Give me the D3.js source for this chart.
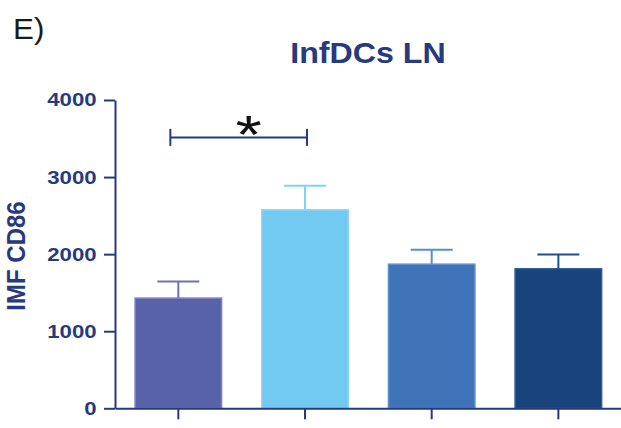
<!DOCTYPE html>
<html>
<head>
<meta charset="utf-8">
<script src="https://cdn.jsdelivr.net/npm/d3@7"></script>
<style>
  html, body { margin: 0; padding: 0; background: #fff; }
  svg { display: block; }
</style>
</head>
<body>
<svg id="chart" width="621" height="428"></svg>
<script>
// Group identifiers (the x axis carries no labels)
const groups = ["g1", "g2", "g3", "g4"];
// Mean CD86 intensity per group and its standard error
const means = [1430, 2575, 1870, 1810];
const sems = [215, 312, 186, 186];
// Y axis ticks
const yTicks = [0, 1000, 2000, 3000, 4000];
// Significance bracket between group 1 and group 2
const sigFrom = ["g1"];
const sigTo = ["g2"];
const sigLevel = [3515];
const sigLabel = ["*"];

const fills = ["#5862a8", "#72caf2", "#4074b8", "#18437c"];
const strokes = ["#7c85c3", "#8fd6f6", "#5f92cf", "#2a5a98"];
const errColors = ["#6a73b5", "#80d2f5", "#5a8dca", "#1f4f8f"];
const navy = "#27397f";

const svg = d3.select("#chart");
const x0 = 115, yBottom = 408.3, yTop = 100;

const x = d3.scaleBand().domain(groups).range([x0, 621.7])
  .paddingInner(0.317).paddingOuter(0.1585);
const y = d3.scaleLinear().domain([0, 4000]).range([yBottom, yTop]);

// Panel letter
svg.append("text")
  .attr("transform", "translate(13,39) scale(1.08,1)")
  .attr("font-family", "Liberation Sans, Arial, sans-serif")
  .attr("font-size", 29)
  .attr("fill", "#1a1a1a")
  .text("E)");

// Title
svg.append("text")
  .attr("transform", "translate(368,63) scale(1.11,1)")
  .attr("text-anchor", "middle")
  .attr("font-family", "Liberation Sans, Arial, sans-serif")
  .attr("font-weight", "bold")
  .attr("font-size", 29)
  .attr("fill", navy)
  .text("InfDCs LN");

// Y axis label
svg.append("text")
  .attr("transform", "translate(25,256) scale(1.08,1) rotate(-90)")
  .attr("text-anchor", "middle")
  .attr("font-family", "Liberation Sans, Arial, sans-serif")
  .attr("font-weight", "bold")
  .attr("font-size", 24)
  .attr("fill", navy)
  .text("IMF CD86");

// Bars
const data = groups.map((g, i) => ({ g, mean: means[i], sem: sems[i], i }));

svg.append("g").selectAll("rect").data(data).join("rect")
  .attr("x", d => x(d.g))
  .attr("y", d => y(d.mean))
  .attr("width", x.bandwidth())
  .attr("height", d => y(0) - y(d.mean))
  .attr("fill", d => fills[d.i])
  .attr("stroke", d => strokes[d.i])
  .attr("stroke-width", 1.5);

// Error bars (upper only)
const capHalf = 21;
const eb = svg.append("g").selectAll("g").data(data).join("g")
  .attr("stroke", d => errColors[d.i])
  .attr("stroke-width", 2);
eb.append("line")
  .attr("x1", d => x(d.g) + x.bandwidth() / 2)
  .attr("x2", d => x(d.g) + x.bandwidth() / 2)
  .attr("y1", d => y(d.mean))
  .attr("y2", d => y(d.mean + d.sem));
eb.append("line")
  .attr("x1", d => x(d.g) + x.bandwidth() / 2 - capHalf)
  .attr("x2", d => x(d.g) + x.bandwidth() / 2 + capHalf)
  .attr("y1", d => y(d.mean + d.sem))
  .attr("y2", d => y(d.mean + d.sem));

// Y axis
const yAxis = svg.append("g")
  .attr("transform", `translate(${x0},0)`)
  .call(d3.axisLeft(y).tickValues(yTicks).tickFormat(d3.format("d"))
    .tickSize(11).tickPadding(4).tickSizeOuter(0));
yAxis.select(".domain").attr("stroke", navy).attr("stroke-width", 2);
yAxis.selectAll(".tick line").attr("stroke", navy).attr("stroke-width", 2);
yAxis.selectAll(".tick text")
  .attr("x", -15.3)
  .attr("transform", "scale(1.2,1)")
  .attr("font-family", "Liberation Sans, Arial, sans-serif")
  .attr("font-weight", "bold")
  .attr("font-size", 18.5)
  .attr("fill", navy);

// X axis
const xAxis = svg.append("g")
  .attr("transform", `translate(0,${yBottom})`)
  .call(d3.axisBottom(x).tickSize(11).tickSizeOuter(0).tickFormat(""));
xAxis.select(".domain").attr("stroke", navy).attr("stroke-width", 2);
xAxis.selectAll(".tick line").attr("stroke", navy).attr("stroke-width", 2);

// Significance bracket
sigFrom.forEach((f, k) => {
  const xa = x(f) + x.bandwidth() / 2 - 8;
  const xb = x(sigTo[k]) + x.bandwidth() / 2 + 2;
  const yl = y(sigLevel[k]);
  const br = svg.append("g").attr("stroke", navy).attr("stroke-width", 2);
  br.append("line").attr("x1", xa).attr("x2", xb).attr("y1", yl).attr("y2", yl);
  br.append("line").attr("x1", xa).attr("x2", xa).attr("y1", yl - 8.5).attr("y2", yl + 8.5);
  br.append("line").attr("x1", xb).attr("x2", xb).attr("y1", yl - 8.5).attr("y2", yl + 8.5);
  svg.append("text")
    .attr("transform", `translate(${(xa + xb) / 2 + 10},${yl + 16}) scale(1.25,1)`)
    .attr("text-anchor", "middle")
    .attr("font-family", "Liberation Sans, Arial, sans-serif")
    .attr("font-size", 54)
    .attr("fill", "#111")
    .text(sigLabel[k]);
});
</script>
</body>
</html>
